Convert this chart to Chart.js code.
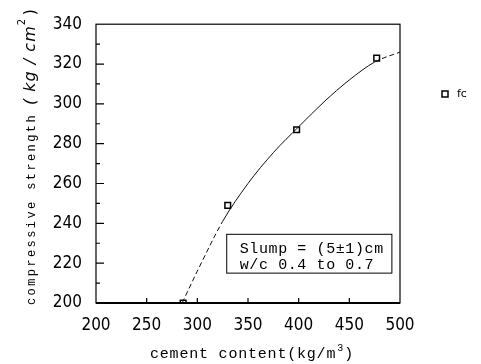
<!DOCTYPE html>
<html>
<head>
<meta charset="utf-8">
<script src="https://cdn.jsdelivr.net/npm/chart.js@4.4.1/dist/chart.umd.min.js"></script>
<style>
    body { margin: 0; background: #fff; }
    #myChart { display: block; }
</style>
</head>
<body>
<canvas id="myChart" width="481" height="364"></canvas>
<script>
// Punkty pomiarowe fc
const cementContent = [286, 330, 398, 477];
const strength = [200, 249, 287, 323];

// Krzywa dopasowania
const curveX = [285, 300, 325, 350, 375, 400, 425, 450, 475, 500];
const curveY = [200, 216, 241, 260, 275.5, 288.5, 301, 312, 321, 326];

const xTicks = [200, 250, 300, 350, 400, 450, 500];
const yTicks = [200, 220, 240, 260, 280, 300, 320, 340];

const legendLabel = 'fc';
const noteLines = ['Slump = (5±1)cm', 'w/c 0.4 to 0.7'];

const tickFont = { family: "'Liberation Sans Narrow', 'DejaVu Sans Condensed', sans-serif", size: 17 };
const monoFont = "'Liberation Mono', 'DejaVu Sans Mono', monospace";

// Ramka, znaczniki do środka, opisy osi, legenda i ramka z opisem
const extras = {
    id: 'extras',
    afterDraw(chart) {
        const ctx = chart.ctx;
        const a = chart.chartArea;
        const xs = chart.scales.x;
        const ys = chart.scales.y;

        ctx.save();
        ctx.strokeStyle = '#000';
        ctx.fillStyle = '#000';

        // ramka wykresu
        ctx.lineWidth = 1.2;
        ctx.strokeRect(a.left, a.top, a.right - a.left, a.bottom - a.top);
        ctx.lineWidth = 2;
        ctx.beginPath();
        ctx.moveTo(a.left, a.bottom);
        ctx.lineTo(a.right, a.bottom);
        ctx.stroke();

        // znaczniki osi y (główne co 20, pomocnicze co 10)
        ctx.lineWidth = 1.2;
        ctx.beginPath();
        yTicks.forEach(function (v, i) {
            const py = ys.getPixelForValue(v);
            if (i > 0 && i < yTicks.length - 1) {
                ctx.moveTo(a.left, py);
                ctx.lineTo(a.left + 8, py);
            }
            if (i > 0) {
                const pm = ys.getPixelForValue(v - 10);
                ctx.moveTo(a.left, pm);
                ctx.lineTo(a.left + 4, pm);
            }
        });
        // znaczniki osi x
        xTicks.forEach(function (v, i) {
            if (i === 0 || i === xTicks.length - 1) return;
            const px = xs.getPixelForValue(v);
            ctx.moveTo(px, a.bottom);
            ctx.lineTo(px, a.bottom - 5);
        });
        ctx.stroke();

        // ramka z opisem
        const bx1 = xs.getPixelForValue(329), bx2 = xs.getPixelForValue(492);
        const by1 = ys.getPixelForValue(234.5), by2 = ys.getPixelForValue(215);
        ctx.lineWidth = 1;
        ctx.strokeRect(bx1, by1, bx2 - bx1, by2 - by1);
        ctx.font = '15px ' + monoFont;
        ctx.letterSpacing = '0.6px';
        ctx.textBaseline = 'alphabetic';
        ctx.fillText(noteLines[0], bx1 + 13, by1 + 19);
        ctx.fillText(noteLines[1], bx1 + 13, by1 + 35);

        // opis osi x
        ctx.font = '15px ' + monoFont;
        ctx.letterSpacing = '0.8px';
        const xt = 'cement content(kg/m';
        ctx.fillText(xt, 150, 358);
        const w1 = ctx.measureText(xt).width;
        ctx.font = '10px ' + monoFont;
        ctx.fillText('3', 150 + w1 + 1, 351);
        ctx.font = '15px ' + monoFont;
        ctx.fillText(')', 150 + w1 + 8, 358);

        // opis osi y (obrócony)
        ctx.translate(35, 305);
        ctx.rotate(-Math.PI / 2);
        ctx.font = '12px ' + monoFont;
        ctx.letterSpacing = '2.4px';
        const yt = 'compressive strength';
        ctx.fillText(yt, 0, 0);
        let off = ctx.measureText(yt).width + 8;
        ctx.font = 'italic 16px "DejaVu Sans", sans-serif';
        ctx.letterSpacing = '1px';
        const kg = '( kg / cm';
        ctx.fillText(kg, off, 0);
        off += ctx.measureText(kg).width;
        ctx.font = '10px "DejaVu Sans", sans-serif';
        ctx.fillText('2', off, -10);
        off += 10;
        ctx.font = '16px "DejaVu Sans", sans-serif';
        ctx.fillText(')', off, 0);
        ctx.restore();

        // legenda
        ctx.save();
        ctx.lineWidth = 1.5;
        ctx.strokeStyle = '#000';
        ctx.strokeRect(442, 91, 6, 6);
        ctx.fillStyle = '#000';
        ctx.font = '11px "DejaVu Sans", sans-serif';
        ctx.textBaseline = 'middle';
        ctx.fillText(legendLabel, 457, 94);
        ctx.restore();
    }
};

function createChart() {
    const ctx = document.getElementById('myChart').getContext('2d');

    chart = new Chart(ctx, {
        type: 'scatter',
        data: {
            datasets: [{
                label: 'curve',
                data: curveX.map((x, i) => ({ x: x, y: curveY[i] })),
                showLine: true,
                borderColor: '#111',
                borderWidth: 1,
                pointRadius: 0,
                cubicInterpolationMode: 'monotone',
                segment: {
                    // dolny odcinek i końcówka linii przerywane
                    borderDash: c => (c.p0.parsed.x < 320 || c.p0.parsed.x >= 475) ? [5, 3] : undefined
                }
            }, {
                label: legendLabel,
                data: cementContent.map((x, i) => ({ x: x, y: strength[i] })),
                showLine: false,
                pointStyle: 'rect',
                pointRadius: 4,
                backgroundColor: '#fff',
                borderColor: '#000',
                borderWidth: 1.5
            }]
        },
        options: {
            responsive: false,
            animation: false,
            layout: { padding: { top: 18, right: 81, left: 0, bottom: 0 } },
            plugins: {
                legend: { display: false },
                tooltip: { enabled: false }
            },
            scales: {
                x: {
                    type: 'linear',
                    min: 200,
                    max: 500,
                    afterBuildTicks: s => { s.ticks = xTicks.map(v => ({ value: v })); },
                    afterFit: s => { s.height = 61; },
                    grid: { display: false, drawTicks: false },
                    border: { display: false },
                    ticks: { color: '#000', font: tickFont, padding: 12, maxRotation: 0 }
                },
                y: {
                    min: 200,
                    max: 340,
                    afterBuildTicks: s => { s.ticks = yTicks.map(v => ({ value: v })); },
                    afterFit: s => { s.width = 96; },
                    grid: { display: false, drawTicks: false },
                    border: { display: false },
                    ticks: { color: '#000', font: tickFont, padding: 14 }
                }
            }
        },
        plugins: [extras]
    });
}

createChart();
</script>
</body>
</html>
